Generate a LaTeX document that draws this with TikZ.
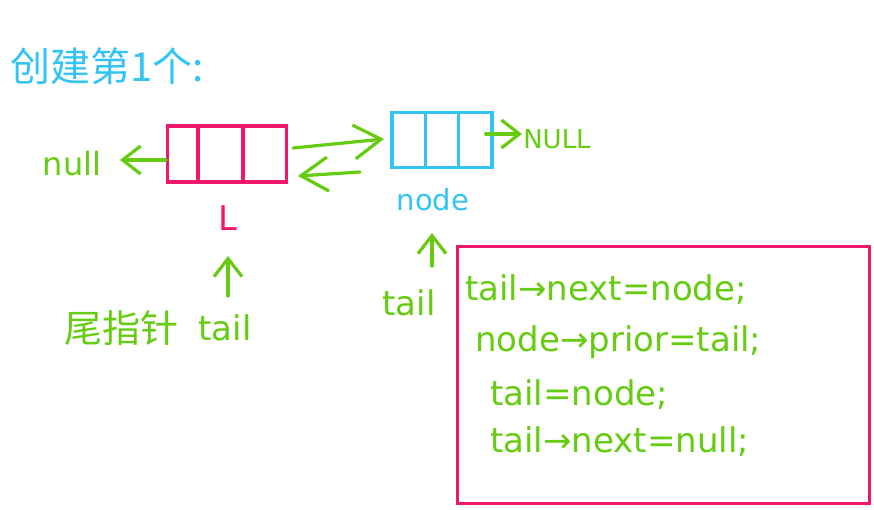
\documentclass[tikz,border=0pt]{standalone}
\usepackage{fontspec}
\setmainfont{DejaVu Sans}
\newfontfamily\cjk{Noto Sans CJK SC}
\usetikzlibrary{arrows.meta}
\definecolor{hgreen}{HTML}{66CC11}
\definecolor{hblue}{HTML}{33C4F4}
\definecolor{hpink}{HTML}{F0186C}
\begin{document}
\begin{tikzpicture}[x=1pt,y=-1pt,
  garrow/.style={draw=hgreen, line width=3.2pt, line cap=round,
    -{Straight Barb[length=18pt,width=28pt,line width=3.2pt]}},
  bigarrow/.style={draw=hgreen, line width=3.2pt, line cap=round,
    -{Straight Barb[length=27pt,width=34pt,line width=3.2pt]}},
  gtext/.style={text=hgreen, inner sep=0pt},
  codeline/.style={text=hgreen, inner sep=0pt, anchor=west, font=\fontsize{34}{36}\selectfont}
]
\useasboundingbox (0,0) rectangle (874,510);
\fill[white] (0,0) rectangle (874,510);

% title
\node[text=hblue, inner sep=0pt, anchor=west, font=\cjk\fontsize{40}{44}\selectfont] (title) at (10,66) {创建第1个:};

% L box
\node[draw=hpink, line width=3.2pt, minimum width=119pt, minimum height=56pt, inner sep=0pt] (Lbox) at (227,154) {};
\draw[hpink, line width=3.2pt] ([xshift=32pt]Lbox.north west) -- ([xshift=32pt]Lbox.south west);
\draw[hpink, line width=3.2pt] ([xshift=77pt]Lbox.north west) -- ([xshift=77pt]Lbox.south west);
\node[text=hpink, inner sep=0pt, font=\fontsize{34}{36}\selectfont] (Llab) at (228,218) {L};

% node box
\node[draw=hblue, line width=3.2pt, minimum width=100pt, minimum height=55pt, inner sep=0pt] (Nbox) at (442,140) {};
\draw[hblue, line width=3.2pt] ([xshift=35pt]Nbox.north west) -- ([xshift=35pt]Nbox.south west);
\draw[hblue, line width=3.2pt] ([xshift=68pt]Nbox.north west) -- ([xshift=68pt]Nbox.south west);
\node[text=hblue, inner sep=0pt, font=\fontsize{29}{31}\selectfont] (Nlab) at (433,200) {node};

% null / NULL
\node[gtext, font=\fontsize{32}{34}\selectfont] (nullL) at (72,164) {null};
\node[gtext, font=\fontsize{26}{28}\selectfont] (nullR) at (557,139) {NULL};
\coordinate (nl) at (120,160);
\draw[garrow] (Lbox.west |- nl) -- (nl);
\coordinate (nr) at (522,134);
\draw[garrow] ([xshift=-8pt]Nbox.east |- nr) -- (nr);

% links between boxes
\coordinate (a1) at (293,148);
\coordinate (a2) at (384,139);
\coordinate (b1) at (360,172);
\coordinate (b2) at (298,176);
\draw[bigarrow] (a1) -- (a2);
\draw[bigarrow] (b1) -- (b2);

% tail pointers
\node[gtext, font=\fontsize{34}{36}\selectfont] (tailL) at (225,328) {tail};
\node[text=hgreen, inner sep=0pt, font=\cjk\fontsize{38}{40}\selectfont] (wei) at (121,328) {尾指针};
\coordinate (tl1) at (228,296);
\coordinate (tl2) at (228,256);
\draw[garrow] (tl1) -- (tl2);

\node[gtext, font=\fontsize{34}{36}\selectfont] (tailR) at (409,303) {tail};
\coordinate (tr1) at (432,266);
\coordinate (tr2) at (432,233);
\draw[garrow] (tr1) -- (tr2);

% code frame
\node[draw=hpink, line width=3pt, minimum width=412pt, minimum height=257pt, anchor=north west, inner sep=0pt] (frame) at (456,245) {};
\node[codeline] (c1) at (465,290) {tail→next=node;};
\node[codeline] (c2) at (475,342) {node→prior=tail;};
\node[codeline] (c3) at (490,395) {tail=node;};
\node[codeline] (c4) at (490,442) {tail→next=null;};
\end{tikzpicture}
\end{document}
